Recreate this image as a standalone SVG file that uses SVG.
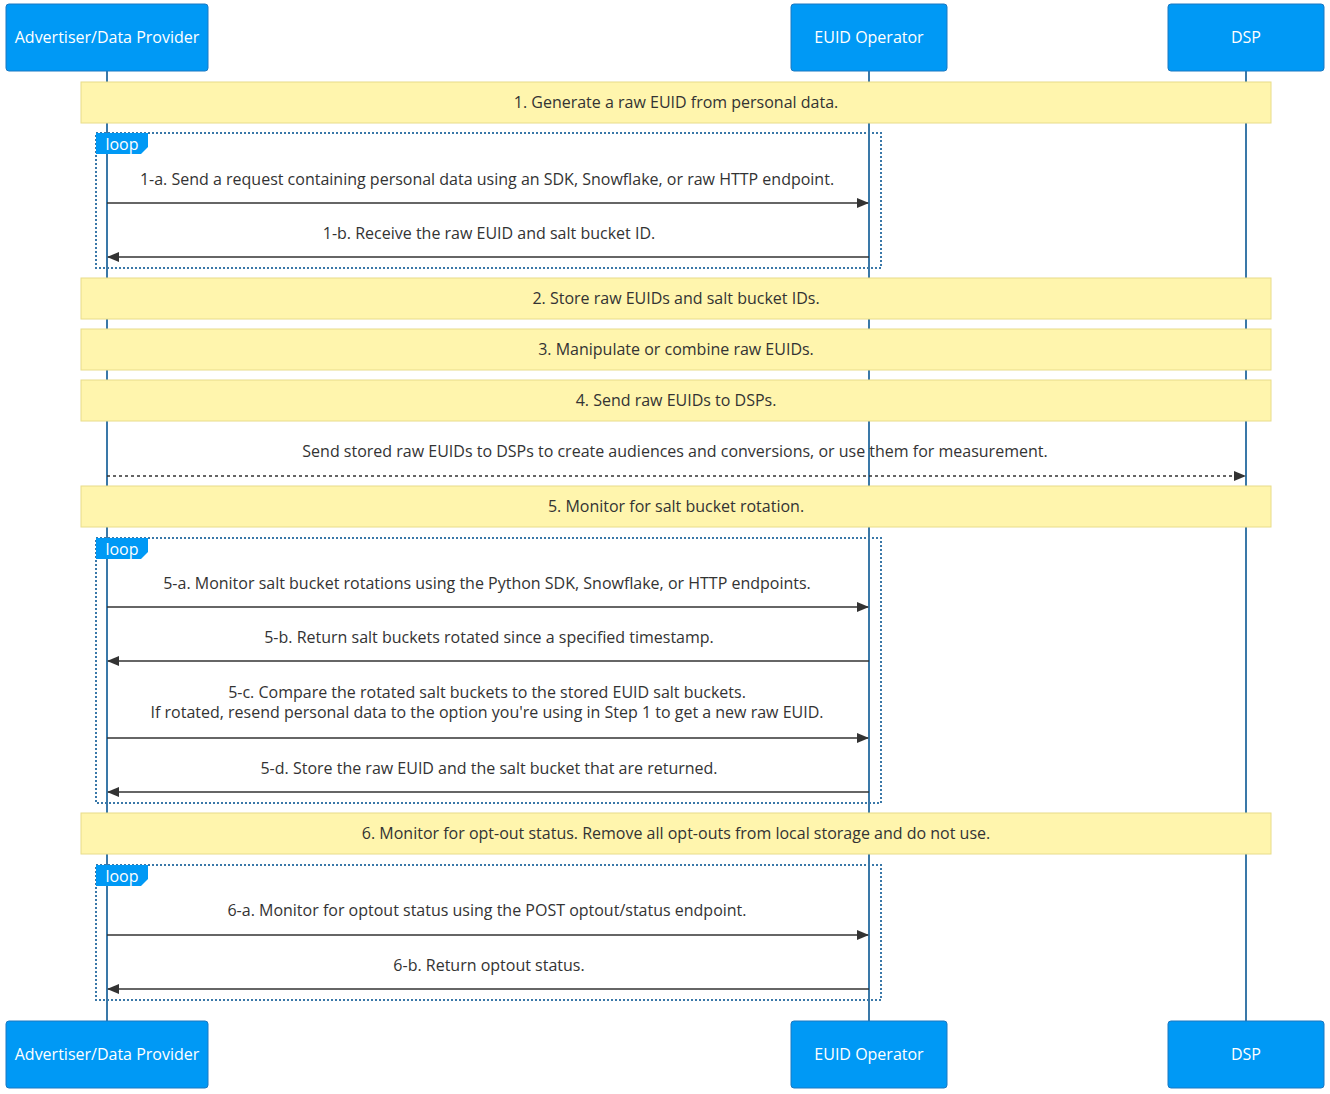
<svg xmlns="http://www.w3.org/2000/svg" width="1330" height="1094" viewBox="0 0 1330 1094">
<defs>
<style>
.actor{fill:#0099f5;stroke:#1a78c2;stroke-width:1}
.atext{fill:#fff;font-family:"Open Sans","DejaVu Sans",sans-serif;font-size:16px;font-weight:500;text-anchor:middle;dominant-baseline:central}
.life{stroke:#3a78a8;stroke-width:2}
.note{fill:#fff5ad;stroke:#e8dc8a;stroke-width:1}
.ntext{fill:#333;font-family:"Open Sans","DejaVu Sans",sans-serif;font-size:16px;text-anchor:middle;dominant-baseline:central}
.msg{stroke:#333;stroke-width:1.5;fill:none}
.dot{stroke:#333;stroke-width:1.5;fill:none;stroke-dasharray:3,3}
.mtext{fill:#333;font-family:"Open Sans","DejaVu Sans",sans-serif;font-size:16px;text-anchor:middle;dominant-baseline:central}
.loop{fill:none;stroke:#3a78a8;stroke-width:2;stroke-dasharray:2,2}
.lbl{fill:#0099f5}
.ltext{fill:#fff;font-family:"Open Sans","DejaVu Sans",sans-serif;font-size:16px;text-anchor:middle;dominant-baseline:central}
</style>
<marker id="arr" viewBox="0 0 12 12" refX="11" refY="6" markerWidth="12" markerHeight="12" markerUnits="userSpaceOnUse" orient="auto">
<path d="M0,1 L12,6 L0,11 z" fill="#333"/>
</marker>
</defs>
<rect width="1330" height="1094" fill="#fff"/>
<g id="lifelines">
<line class="life" x1="107" y1="71" x2="107" y2="1021"/>
<line class="life" x1="869" y1="71" x2="869" y2="1021"/>
<line class="life" x1="1246" y1="71" x2="1246" y2="1021"/>
</g>
<g id="actor-adv-top"><rect class="actor" x="6" y="4" width="202" height="67" rx="3"/><text class="atext" x="107" y="37">Advertiser/Data Provider</text></g>
<g id="actor-op-top"><rect class="actor" x="791" y="4" width="156" height="67" rx="3"/><text class="atext" x="869" y="37">EUID Operator</text></g>
<g id="actor-dsp-top"><rect class="actor" x="1168" y="4" width="156" height="67" rx="3"/><text class="atext" x="1246" y="37">DSP</text></g>
<g id="actor-adv-bot"><rect class="actor" x="6" y="1021" width="202" height="67" rx="3"/><text class="atext" x="107" y="1054">Advertiser/Data Provider</text></g>
<g id="actor-op-bot"><rect class="actor" x="791" y="1021" width="156" height="67" rx="3"/><text class="atext" x="869" y="1054">EUID Operator</text></g>
<g id="actor-dsp-bot"><rect class="actor" x="1168" y="1021" width="156" height="67" rx="3"/><text class="atext" x="1246" y="1054">DSP</text></g>
<g id="note1"><rect class="note" x="81" y="82" width="1190" height="41"/><text class="ntext" x="676" y="101.5">1. Generate a raw EUID from personal data.</text></g>
<g id="note2"><rect class="note" x="81" y="278" width="1190" height="41"/><text class="ntext" x="676" y="297.5">2. Store raw EUIDs and salt bucket IDs.</text></g>
<g id="note3"><rect class="note" x="81" y="329" width="1190" height="41"/><text class="ntext" x="676" y="348.5">3. Manipulate or combine raw EUIDs.</text></g>
<g id="note4"><rect class="note" x="81" y="380" width="1190" height="41"/><text class="ntext" x="676" y="399.5">4. Send raw EUIDs to DSPs.</text></g>
<g id="note5"><rect class="note" x="81" y="486" width="1190" height="41"/><text class="ntext" x="676" y="505.5">5. Monitor for salt bucket rotation.</text></g>
<g id="note6"><rect class="note" x="81" y="813" width="1190" height="41"/><text class="ntext" x="676" y="832.5">6. Monitor for opt-out status. Remove all opt-outs from local storage and do not use.</text></g>
<g id="loop1"><rect class="loop" x="96" y="133" width="785" height="135"/><path class="lbl" d="M96,133 H148 V147 L141,154 H96 z"/><text class="ltext" x="122" y="143.5">loop</text></g>
<g id="loop2"><rect class="loop" x="96" y="538" width="785" height="265"/><path class="lbl" d="M96,538 H148 V552 L141,559 H96 z"/><text class="ltext" x="122" y="548.5">loop</text></g>
<g id="loop3"><rect class="loop" x="96" y="865" width="785" height="135"/><path class="lbl" d="M96,865 H148 V879 L141,886 H96 z"/><text class="ltext" x="122" y="875.5">loop</text></g>
<g id="connectors">
<text class="mtext" x="487" y="179">1-a. Send a request containing personal data using an SDK, Snowflake, or raw HTTP endpoint.</text>
<line class="msg" x1="107" y1="203" x2="868" y2="203" marker-end="url(#arr)"/>
<text class="mtext" x="489" y="233">1-b. Receive the raw EUID and salt bucket ID.</text>
<line class="msg" x1="869" y1="257" x2="108" y2="257" marker-end="url(#arr)"/>
<text class="mtext" x="675" y="451">Send stored raw EUIDs to DSPs to create audiences and conversions, or use them for measurement.</text>
<line class="dot" x1="107" y1="476" x2="1245" y2="476" marker-end="url(#arr)"/>
<text class="mtext" x="487" y="583">5-a. Monitor salt bucket rotations using the Python SDK, Snowflake, or HTTP endpoints.</text>
<line class="msg" x1="107" y1="607" x2="868" y2="607" marker-end="url(#arr)"/>
<text class="mtext" x="489" y="637">5-b. Return salt buckets rotated since a specified timestamp.</text>
<line class="msg" x1="869" y1="661" x2="108" y2="661" marker-end="url(#arr)"/>
<text class="mtext" x="487" y="692">5-c. Compare the rotated salt buckets to the stored EUID salt buckets.</text>
<text class="mtext" x="487" y="712">If rotated, resend personal data to the option you're using in Step 1 to get a new raw EUID.</text>
<line class="msg" x1="107" y1="738" x2="868" y2="738" marker-end="url(#arr)"/>
<text class="mtext" x="489" y="768">5-d. Store the raw EUID and the salt bucket that are returned.</text>
<line class="msg" x1="869" y1="792" x2="108" y2="792" marker-end="url(#arr)"/>
<text class="mtext" x="487" y="910">6-a. Monitor for optout status using the POST optout/status endpoint.</text>
<line class="msg" x1="107" y1="935" x2="868" y2="935" marker-end="url(#arr)"/>
<text class="mtext" x="489" y="965">6-b. Return optout status.</text>
<line class="msg" x1="869" y1="989" x2="108" y2="989" marker-end="url(#arr)"/>
</g>
</svg>
